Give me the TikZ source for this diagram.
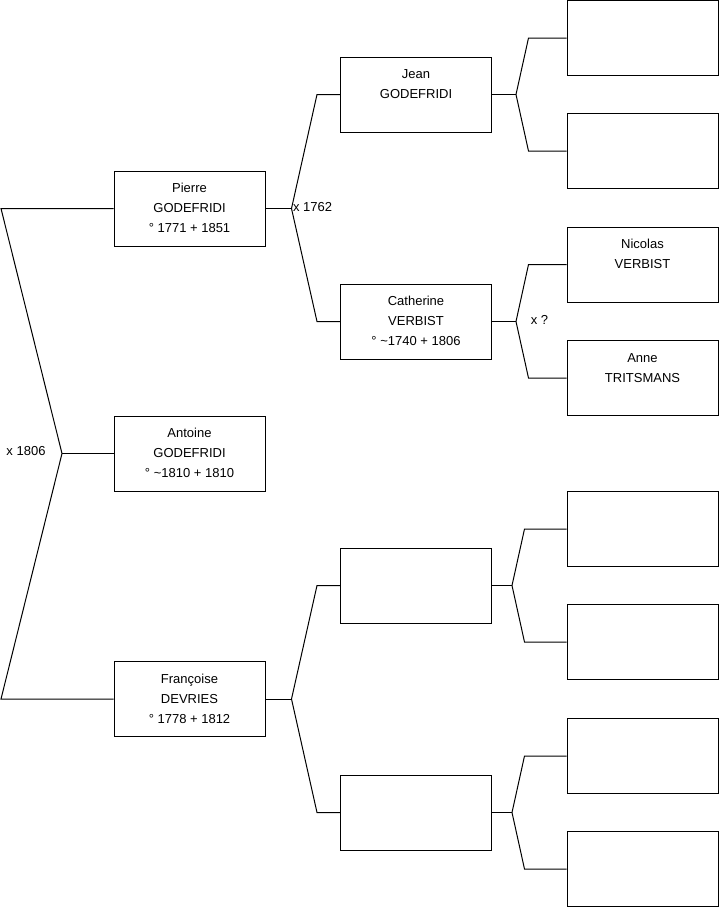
\documentclass[tikz,border=0pt]{standalone}
\usepackage{fontspec}
\setmainfont{Liberation Sans}
\newcommand{\who}[3]{\strut#1\\\strut#2\\\strut#3}
\tikzset{
  person/.style={draw, minimum width=151pt, minimum height=75pt, align=center, inner sep=0pt, font=\fontsize{13}{20}\selectfont},
  wed/.style={font=\fontsize{13}{20}\selectfont, inner sep=0pt}
}

\begin{document}
\begin{tikzpicture}[x=1pt, y=-1pt, line width=1pt]
\useasboundingbox (0,0) rectangle (719,908);
% Generation 1
\node[person] (pierre) at (189.5,208.5) {\who{Pierre}{GODEFRIDI}{° 1771 + 1851}};
\node[person] (antoine) at (189.5,453.5) {\who{Antoine}{GODEFRIDI}{° \textasciitilde1810 + 1810}};
\node[person] (francoise) at (189.5,699) {\who{Françoise}{DEVRIES}{° 1778 + 1812}};
% Generation 2
\node[person] (jean) at (416,94.5) {\who{Jean}{GODEFRIDI}{}};
\node[person] (catherine) at (416,321.5) {\who{Catherine}{VERBIST}{° \textasciitilde1740 + 1806}};
\node[person] (ff) at (416,585.5) {};
\node[person] (fm) at (416,812.5) {};
% Generation 3
\node[person] (jf) at (642.5,38) {};
\node[person] (jm) at (642.5,151) {};
\node[person] (nicolas) at (642.5,264.5) {\who{Nicolas}{VERBIST}{}};
\node[person] (anne) at (642.5,378) {\who{Anne}{TRITSMANS}{}};
\node[person] (fff) at (642.5,529) {};
\node[person] (ffm) at (642.5,642) {};
\node[person] (fmf) at (642.5,756) {};
\node[person] (fmm) at (642.5,869) {};

% forks
\coordinate (tl) at (1,208.5);
\coordinate (bl) at (1,699);
\coordinate (m1) at (62,453.5);
\coordinate (m2) at ([xshift=26pt]pierre.east);
\coordinate (m3) at ([xshift=24pt]jean.east);
\coordinate (m4) at ([xshift=24pt]catherine.east);
\coordinate (m5) at ([xshift=26pt]francoise.east);
\coordinate (m6) at ([xshift=20pt]ff.east);
\coordinate (m7) at ([xshift=20pt]fm.east);

\draw (pierre.west) -- (tl) -- (m1) -- (bl) -- (francoise.west);
\draw (m1) -- (antoine.west);
\node[wed] (x1806) at (26,451) {x 1806};

\draw (pierre.east) -- (m2);
\draw (m2) -- ([xshift=-23pt]jean.west) -- (jean.west);
\draw (m2) -- ([xshift=-23pt]catherine.west) -- (catherine.west);
\node[wed, anchor=west] (x1762) at (292.5,207) {x 1762};

\draw (jean.east) -- (m3);
\draw (m3) -- ([xshift=-38pt]jf.west) -- (jf.west);
\draw (m3) -- ([xshift=-38pt]jm.west) -- (jm.west);

\draw (catherine.east) -- (m4);
\draw (m4) -- ([xshift=-38pt]nicolas.west) -- (nicolas.west);
\draw (m4) -- ([xshift=-38pt]anne.west) -- (anne.west);
\node[wed] (xq) at (539.5,320) {x ?};

\draw (francoise.east) -- (m5);
\draw (m5) -- ([xshift=-23pt]ff.west) -- (ff.west);
\draw (m5) -- ([xshift=-23pt]fm.west) -- (fm.west);

\draw (ff.east) -- (m6);
\draw (m6) -- ([xshift=-42pt]fff.west) -- (fff.west);
\draw (m6) -- ([xshift=-42pt]ffm.west) -- (ffm.west);

\draw (fm.east) -- (m7);
\draw (m7) -- ([xshift=-42pt]fmf.west) -- (fmf.west);
\draw (m7) -- ([xshift=-42pt]fmm.west) -- (fmm.west);
\end{tikzpicture}
\end{document}
